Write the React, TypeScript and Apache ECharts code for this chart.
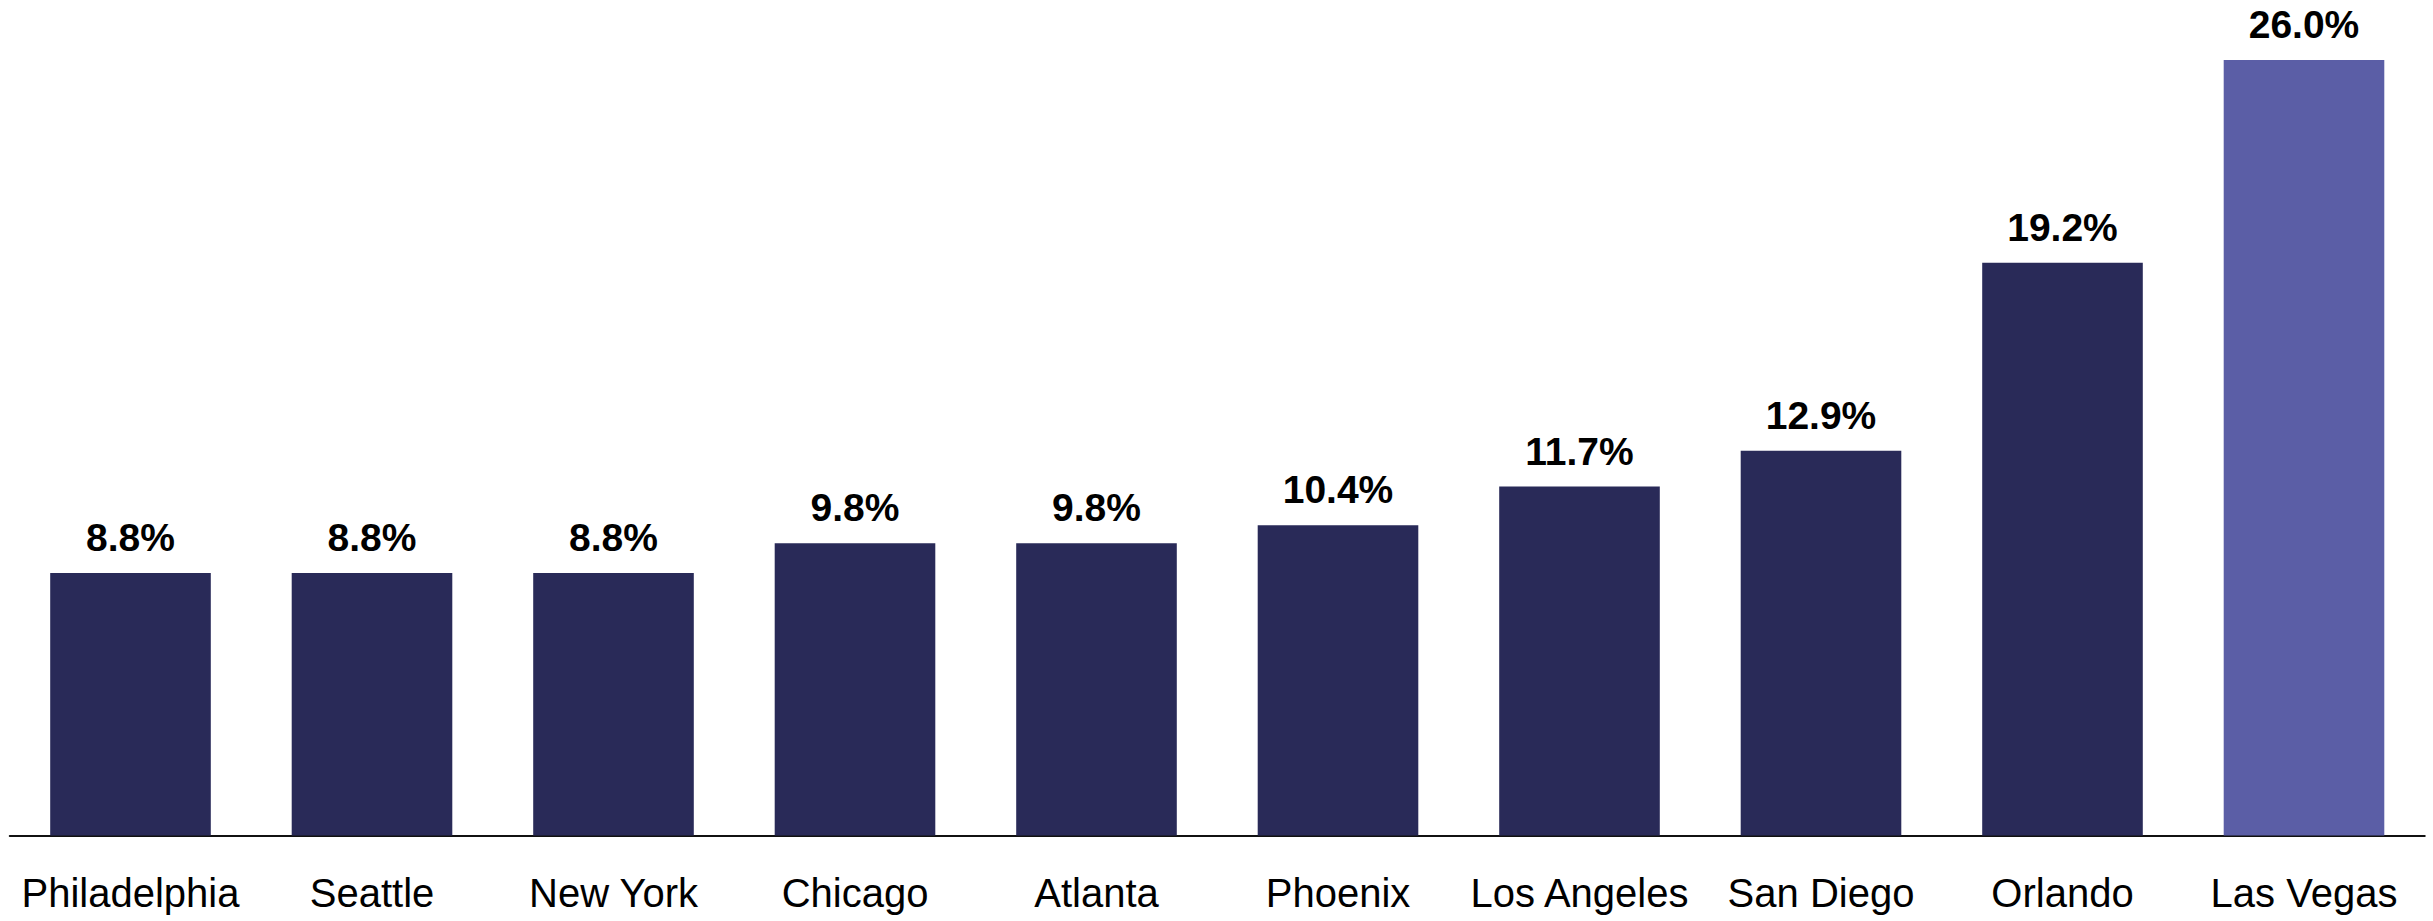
import React, { useEffect, useRef } from "react";
import * as echarts from "echarts";

const categories = [
  "Philadelphia",
  "Seattle",
  "New York",
  "Chicago",
  "Atlanta",
  "Phoenix",
  "Los Angeles",
  "San Diego",
  "Orlando",
  "Las Vegas",
];
const values = [8.8, 8.8, 8.8, 9.8, 9.8, 10.4, 11.7, 12.9, 19.2, 26.0];
const highlightCategory = "Las Vegas";

const FONT = "'Liberation Sans', Arial, sans-serif";

export default function App() {
  const ref = useRef<HTMLDivElement>(null);
  useEffect(() => {
    if (!ref.current) return;
    const chart = echarts.init(ref.current, undefined, { renderer: "svg" });
    chart.setOption({
      animation: false,
      grid: { left: 9.75, right: 8.25, top: 60, bottom: 85.5, containLabel: false },
      xAxis: {
        type: "category",
        data: categories,
        axisLine: { show: true, lineStyle: { color: "#111", width: 2 } },
        axisTick: { show: false },
        axisLabel: {
          color: "#000",
          fontFamily: FONT,
          fontSize: 40,
          margin: 37,
          interval: 0,
        },
      },
      yAxis: {
        type: "value",
        min: 0,
        max: 26,
        show: false,
        splitLine: { show: false },
      },
      series: [
        {
          type: "bar",
          barCategoryGap: "33.5%",
          data: values.map((v, i) => ({
            value: v,
            itemStyle: { color: categories[i] === highlightCategory ? "#5B5EA6" : "#292A58" },
          })),
          label: {
            show: true,
            position: "top",
            distance: 16,
            color: "#000",
            fontFamily: FONT,
            fontWeight: "bold",
            fontSize: 39,
            formatter: (p: any) => p.value.toFixed(1) + "%",
          },
        },
      ],
    });
    return () => chart.dispose();
  }, []);
  return (
    <div
      ref={ref}
      style={{ position: "fixed", left: 0, top: 0, width: 2433, height: 921, background: "#fff" }}
    />
  );
}
